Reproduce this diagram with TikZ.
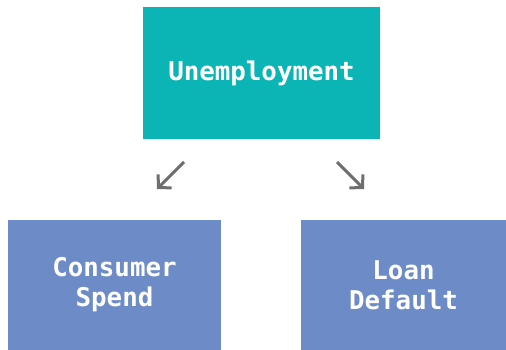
\documentclass[tikz,border=0pt]{standalone}
\usepackage{fontspec}
\setmonofont{DejaVu Sans Mono}
\usepackage{tikz}
\usetikzlibrary{arrows.meta,positioning}
\definecolor{tealbox}{HTML}{0BB5B5}
\definecolor{bluebox}{HTML}{6D8CC7}
\definecolor{arrowgrey}{HTML}{6E6E6E}

\begin{document}
\begin{tikzpicture}[x=1pt,y=-1pt,
  box/.style={rectangle, text=white, align=center, inner sep=0pt,
    font=\ttfamily\bfseries\fontsize{25.8}{30}\selectfont},
  link/.style={-{Straight Barb[length=9pt,width=19pt]}, line width=3pt, arrowgrey}]
\useasboundingbox (0,0) rectangle (506,350);
% Define nodes
\node[box, fill=tealbox, minimum width=237pt, minimum height=132pt] (unemp) at (261.5,73) {Unemployment};
\node[box, fill=bluebox, minimum width=213pt, minimum height=130pt] (spend) at (114.5,285) {Consumer\\Spend};
\node[box, fill=bluebox, minimum width=205pt, minimum height=130pt] (default) at (403.5,285) {Loan\\Default};

% Arrow ends
\coordinate (spendtop) at (184,162);
\coordinate (spendtip) at (157,189);
\coordinate (defaulttop) at (337,162);
\coordinate (defaulttip) at (364,189);

% Draw arrows
\draw[link] (spendtop) -- (spendtip);
\draw[link] (defaulttop) -- (defaulttip);
\end{tikzpicture}
\end{document}
